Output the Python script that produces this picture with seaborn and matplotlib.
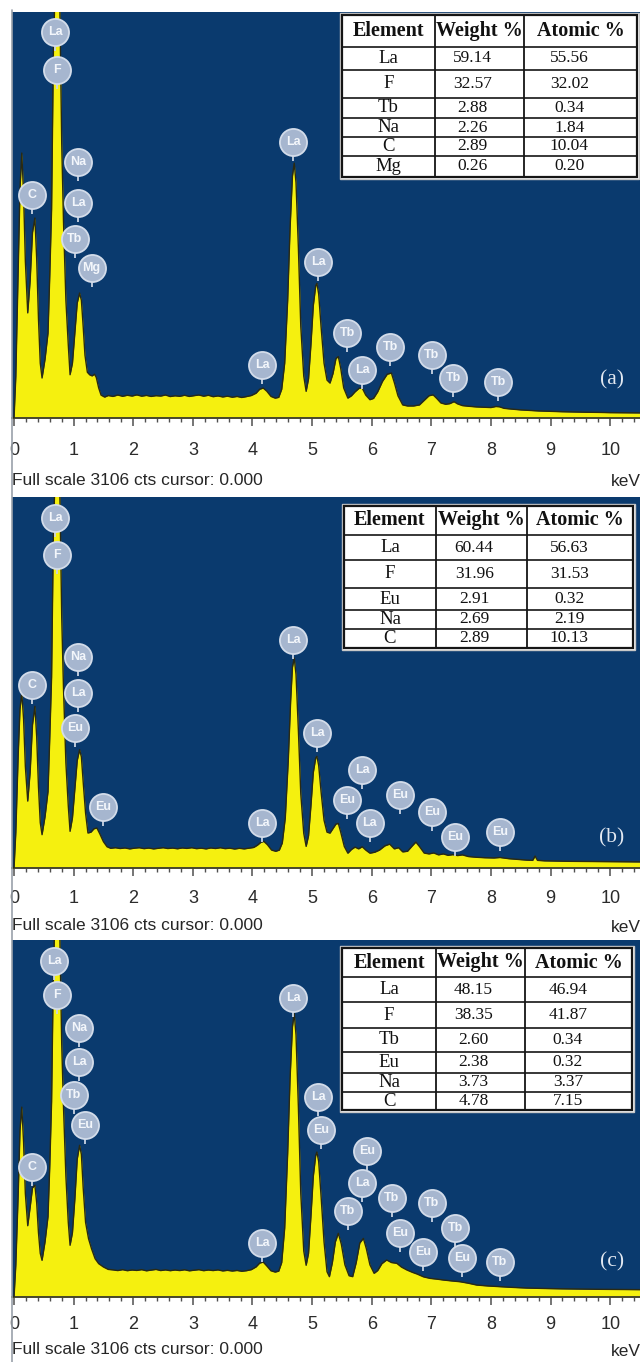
import matplotlib
matplotlib.use("Agg")
import numpy as np
import pandas as pd
import seaborn as sns
import matplotlib.pyplot as plt
from matplotlib.patches import Rectangle
from matplotlib.lines import Line2D
from matplotlib.ticker import MultipleLocator
from matplotlib.transforms import offset_copy

# ---------------------------------------------------------------- spectra (keV, counts)
energy_a = [0.00, 0.03, 0.07, 0.10, 0.13, 0.16, 0.19, 0.23, 0.27, 0.31, 0.35, 0.38, 0.41, 0.44, 0.47,
            0.52, 0.57, 0.60, 0.63, 0.66, 0.69, 0.72, 0.75, 0.77, 0.80, 0.83, 0.87, 0.91, 0.94,
            0.98, 1.02, 1.06, 1.10, 1.13, 1.16, 1.19, 1.23, 1.27, 1.31, 1.35, 1.38, 1.42, 1.46,
            1.52, 1.58, 1.66, 1.74, 1.82, 1.90, 1.98, 2.06, 2.14, 2.22, 2.30, 2.38, 2.46, 2.54,
            2.62, 2.70, 2.78, 2.86, 2.94, 3.02, 3.10, 3.18, 3.26, 3.34, 3.42, 3.50, 3.58, 3.66,
            3.74, 3.82, 3.90, 3.98, 4.06, 4.12, 4.18, 4.24, 4.31, 4.38, 4.44, 4.49, 4.54, 4.59,
            4.63, 4.67, 4.70, 4.73, 4.77, 4.81, 4.86, 4.90, 4.94, 4.98, 5.02, 5.06, 5.08, 5.11,
            5.15, 5.20, 5.25, 5.30, 5.35, 5.40, 5.44, 5.48, 5.53, 5.60, 5.66, 5.72, 5.79, 5.84,
            5.90, 5.97, 6.03, 6.10, 6.18, 6.26, 6.33, 6.38, 6.44, 6.52, 6.60, 6.70, 6.80, 6.88,
            6.96, 7.03, 7.09, 7.16, 7.24, 7.31, 7.38, 7.44, 7.52, 7.62, 7.75, 7.88, 8.00, 8.08,
            8.14, 8.22, 8.35, 8.50, 8.65, 8.80, 9.00, 9.20, 9.40, 9.60, 9.80, 10.00, 10.25, 10.50]
counts_a = [0, 320, 1150, 1750, 2027, 1720, 1200, 804, 1050, 1420, 1530, 1220, 760, 420, 306,
            450, 650, 1100, 1600, 2800, 3300, 3450, 3350, 3100, 2100, 1500, 900, 560, 331,
            420, 650, 880, 956, 900, 700, 480, 350, 330, 322, 335, 310, 230, 175,
            160, 172, 165, 176, 166, 174, 168, 177, 167, 173, 165, 171, 168, 176,
            164, 170, 166, 174, 165, 171, 176, 167, 174, 163, 169, 161, 167, 159,
            165, 157, 164, 172, 190, 220, 229, 205, 165, 152, 158, 220, 420, 900,
            1450, 1850, 1950, 1800, 1300, 700, 320, 204, 300, 560, 860, 1010, 1030, 950,
            700, 420, 290, 267, 340, 455, 470, 380, 230, 152, 170, 200, 228, 230,
            175, 140, 150, 200, 280, 335, 344, 270, 170, 100, 92, 92, 100, 135,
            170, 177, 150, 115, 105, 110, 125, 108, 95, 90, 85, 82, 80, 88,
            86, 74, 68, 62, 58, 54, 51, 48, 46, 44, 43, 41, 40, 39]

energy_b = [0.00, 0.03, 0.07, 0.10, 0.13, 0.16, 0.19, 0.23, 0.27, 0.31, 0.35, 0.38, 0.41, 0.44, 0.47,
            0.52, 0.57, 0.60, 0.63, 0.66, 0.69, 0.72, 0.75, 0.77, 0.80, 0.83, 0.87, 0.91, 0.94,
            0.98, 1.02, 1.06, 1.10, 1.13, 1.16, 1.20, 1.24, 1.29, 1.34, 1.39, 1.44, 1.50, 1.56,
            1.62, 1.70, 1.78, 1.86, 1.94, 2.02, 2.10, 2.18, 2.26, 2.34, 2.42, 2.50, 2.58, 2.66,
            2.74, 2.82, 2.90, 2.98, 3.06, 3.14, 3.22, 3.30, 3.38, 3.46, 3.54, 3.62, 3.70, 3.78,
            3.86, 3.94, 4.02, 4.08, 4.14, 4.19, 4.25, 4.32, 4.39, 4.45, 4.50, 4.55, 4.60, 4.64,
            4.67, 4.70, 4.73, 4.77, 4.81, 4.86, 4.90, 4.94, 4.98, 5.02, 5.06, 5.08, 5.11, 5.15,
            5.20, 5.25, 5.30, 5.35, 5.40, 5.44, 5.48, 5.54, 5.60, 5.66, 5.72, 5.78, 5.84, 5.90,
            5.97, 6.05, 6.13, 6.22, 6.30, 6.38, 6.45, 6.52, 6.60, 6.68, 6.74, 6.80, 6.88, 6.96,
            7.04, 7.12, 7.20, 7.28, 7.36, 7.44, 7.52, 7.62, 7.75, 7.90, 8.05, 8.15, 8.30, 8.45,
            8.60, 8.70, 8.74, 8.78, 8.90, 9.10, 9.30, 9.55, 9.80, 10.05, 10.30, 10.50]
counts_b = [0, 300, 950, 1330, 1465, 1250, 850, 560, 800, 1200, 1353, 1100, 680, 380, 279,
            430, 640, 1100, 1600, 2800, 3300, 3450, 3350, 3100, 2100, 1500, 880, 520, 307,
            420, 660, 900, 990, 930, 720, 460, 293, 300, 328, 335, 285, 220, 178,
            165, 170, 163, 168, 160, 166, 170, 162, 167, 160, 165, 170, 163, 167,
            161, 168, 164, 170, 162, 166, 160, 168, 163, 170, 162, 166, 159, 165,
            160, 166, 172, 190, 215, 223, 195, 150, 140, 150, 210, 420, 900, 1400,
            1680, 1758, 1620, 1150, 620, 290, 181, 270, 520, 800, 920, 935, 860, 640,
            400, 300, 292, 330, 368, 373, 300, 180, 124, 155, 175, 160, 178, 150,
            124, 132, 150, 185, 200, 160, 170, 135, 140, 185, 217, 180, 125, 118,
            126, 110, 118, 106, 112, 104, 110, 96, 90, 86, 84, 88, 78, 72,
            66, 64, 100, 64, 60, 58, 56, 55, 54, 53, 52, 51]

energy_c = [0.00, 0.03, 0.07, 0.10, 0.13, 0.16, 0.19, 0.23, 0.27, 0.31, 0.35, 0.38, 0.41, 0.44, 0.47,
            0.52, 0.57, 0.60, 0.63, 0.66, 0.69, 0.72, 0.75, 0.77, 0.80, 0.83, 0.87, 0.91, 0.94,
            0.98, 1.02, 1.06, 1.10, 1.13, 1.16, 1.20, 1.25, 1.30, 1.36, 1.42, 1.50, 1.58, 1.66,
            1.74, 1.82, 1.90, 1.98, 2.06, 2.14, 2.22, 2.30, 2.38, 2.46, 2.54, 2.62, 2.70, 2.78,
            2.86, 2.94, 3.02, 3.10, 3.18, 3.26, 3.34, 3.42, 3.50, 3.58, 3.66, 3.74, 3.82, 3.90,
            3.98, 4.06, 4.12, 4.18, 4.24, 4.31, 4.38, 4.44, 4.49, 4.54, 4.59, 4.63, 4.67, 4.70,
            4.73, 4.77, 4.81, 4.86, 4.90, 4.94, 4.98, 5.02, 5.06, 5.08, 5.11, 5.15, 5.20, 5.25,
            5.29, 5.34, 5.39, 5.44, 5.49, 5.55, 5.62, 5.68, 5.74, 5.80, 5.86, 5.91, 5.97, 6.04,
            6.10, 6.17, 6.25, 6.33, 6.42, 6.50, 6.59, 6.68, 6.76, 6.87, 6.98, 7.10, 7.20, 7.34,
            7.48, 7.62, 7.76, 7.95, 8.15, 8.35, 8.60, 8.90, 9.20, 9.50, 9.80, 10.10, 10.50]
counts_c = [0, 280, 900, 1450, 1652, 1350, 900, 620, 780, 950, 972, 820, 560, 380, 319,
            480, 700, 1150, 1700, 2850, 3350, 3450, 3350, 3100, 2200, 1650, 1050, 650, 450,
            560, 850, 1200, 1320, 1240, 950, 650, 507, 420, 333, 290, 261, 240, 236,
            230, 238, 229, 235, 231, 238, 228, 234, 240, 230, 236, 229, 235, 230,
            237, 228, 233, 238, 229, 235, 230, 236, 227, 232, 226, 231, 224, 229,
            238, 262, 295, 304, 270, 228, 217, 225, 300, 600, 1250, 1900, 2350, 2466,
            2280, 1650, 900, 400, 276, 380, 700, 1050, 1230, 1261, 1180, 880, 480, 220,
            177, 300, 480, 554, 460, 280, 185, 177, 300, 470, 510, 420, 280, 206,
            230, 290, 322, 300, 293, 260, 235, 215, 200, 175, 162, 155, 148, 140,
            133, 120, 104, 96, 90, 84, 78, 74, 71, 69, 67, 66, 64]

FULL_SCALE = 3106

# ---------------------------------------------------------------- peak identification tags
tag_names_a = ["La", "F", "C", "Na", "La", "Tb", "Mg", "La", "La", "La", "Tb", "La", "Tb", "Tb", "Tb", "Tb"]
tag_kev_a = [0.69, 0.72, 0.30, 1.08, 1.08, 1.02, 1.30, 4.16, 4.68, 5.10, 5.59, 5.84, 6.31, 7.01, 7.37, 8.12]
tag_names_b = ["La", "F", "C", "Na", "La", "Eu", "Eu", "La", "La", "La", "La", "Eu", "La", "Eu", "Eu", "Eu", "Eu"]
tag_kev_b = [0.69, 0.72, 0.30, 1.08, 1.08, 1.02, 1.50, 4.16, 4.68, 5.09, 5.84, 5.59, 5.97, 6.48, 7.01, 7.40, 8.15]
tag_names_c = ["La", "F", "Na", "La", "Tb", "Eu", "C", "La", "La", "La", "Eu", "Eu", "La", "Tb", "Tb",
               "Eu", "Eu", "Tb", "Tb", "Eu", "Tb"]
tag_kev_c = [0.67, 0.72, 1.09, 1.09, 1.00, 1.19, 0.30, 4.16, 4.68, 5.10, 5.15, 5.92, 5.84, 5.60, 6.34,
             6.48, 6.86, 7.01, 7.40, 7.52, 8.15]

# vertical placement of the tags (counts), kept apart from the data
tag_y_a = [2951, 2662, 1708, 1957, 1646, 1367, 1149, 404, 2112, 1196, 652, 367, 544, 481, 304, 276]
tag_y_b = [2929, 2621, 1531, 1767, 1466, 1171, 512, 373, 1910, 1131, 820, 568, 373, 612, 469, 261, 301]
tag_y_c = [2920, 2628, 2339, 2044, 1758, 1497, 1131, 466, 2600, 1739, 1454, 1273, 994, 745, 860,
           559, 391, 817, 599, 339, 304]

# ---------------------------------------------------------------- quantification tables
table_header = ["Element", "Weight %", "Atomic %"]
elements_a = ["La", "F", "Tb", "Na", "C", "Mg"]
weight_a = [59.14, 32.57, 2.88, 2.26, 2.89, 0.26]
atomic_a = [55.56, 32.02, 0.34, 1.84, 10.04, 0.20]
elements_b = ["La", "F", "Eu", "Na", "C"]
weight_b = [60.44, 31.96, 2.91, 2.69, 2.89]
atomic_b = [56.63, 31.53, 0.32, 2.19, 10.13]
elements_c = ["La", "F", "Tb", "Eu", "Na", "C"]
weight_c = [48.15, 38.35, 2.60, 2.38, 3.73, 4.78]
atomic_c = [46.94, 41.87, 0.34, 0.32, 3.37, 7.15]

panel_tags = ["(a)", "(b)", "(c)"]
x_ticks = list(range(0, 11))
footer_text = "Full scale 3106 cts cursor: 0.000"
unit_text = "keV"

# ---------------------------------------------------------------- styling
sns.set_theme(style="white")
plt.rcParams["font.family"] = ["Liberation Sans", "DejaVu Sans"]

W, H = 640, 1362
NAVY = "#0a3a6e"
YELLOW = "#f5f00f"
EDGE = "#2a2a12"
TAG_FACE = "#a6b6cf"
TAG_EDGE = "#d3dcea"
SERIF = ["Liberation Serif", "DejaVu Serif"]

fig = plt.figure(figsize=(W / 100, H / 100), dpi=100)
fig.patch.set_facecolor("white")


def fx(x):
    return x / W


def fy(y):
    return 1 - y / H


def line_px(x0, y0, x1, y1, color, lw, z):
    fig.add_artist(Line2D([fx(x0), fx(x1)], [fy(y0), fy(y1)], transform=fig.transFigure,
                          color=color, lw=lw, zorder=z))


def draw_table(left, right, cols, rows, elements, weights, atomics):
    top, bottom = rows[0], rows[-1]
    fig.add_artist(Rectangle((fx(left - 2), fy(bottom + 2)), (right - left + 4) / W, (bottom - top + 4) / H,
                             transform=fig.transFigure, facecolor="white", edgecolor="#c8c8c8",
                             lw=1.0, zorder=10))
    fig.add_artist(Rectangle((fx(left), fy(bottom)), (right - left) / W, (bottom - top) / H,
                             transform=fig.transFigure, facecolor="white", edgecolor="#151515",
                             lw=1.6, zorder=11))
    for c in cols:
        line_px(c, top, c, bottom, "#151515", 1.3, 12)
    for r in rows[1:-1]:
        line_px(left, r, right, r, "#151515", 1.2, 12)
    centers = [(left + cols[0]) / 2, cols[0] + 0.42 * (cols[1] - cols[0]), cols[1] + 0.40 * (right - cols[1])]
    head_centers = [(left + cols[0]) / 2, (cols[0] + cols[1]) / 2, (cols[1] + right) / 2]
    yc = (rows[0] + rows[1]) / 2
    for xc, txt in zip(head_centers, table_header):
        fig.text(fx(xc), fy(yc), txt, ha="center", va="center", family=SERIF, fontweight="bold",
                 fontsize=14.5, color="#111111", zorder=13)
    for i, (el, w, a) in enumerate(zip(elements, weights, atomics)):
        yc = (rows[i + 1] + rows[i + 2]) / 2
        fig.text(fx(centers[0]), fy(yc), el, ha="center", va="center", family=SERIF,
                 fontsize=13.5, color="#111111", zorder=13)
        fig.text(fx(centers[1]), fy(yc), f"{w:.2f}", ha="center", va="center", family=SERIF,
                 fontsize=12.5, color="#111111", zorder=13)
        fig.text(fx(centers[2]), fy(yc), f"{a:.2f}", ha="center", va="center", family=SERIF,
                 fontsize=12.5, color="#111111", zorder=13)


panels = [
    dict(energy=energy_a, counts=counts_a, names=tag_names_a, kev=tag_kev_a, ty=tag_y_a,
         box=(12, 12, 640, 418), pad=11.5, foot_y=480, tag_xy=(612, 380),
         table=(342, 637, [435, 524], [15, 47, 70, 98, 118, 137, 156, 177],
                elements_a, weight_a, atomic_a)),
    dict(energy=energy_b, counts=counts_b, names=tag_names_b, kev=tag_kev_b, ty=tag_y_b,
         box=(12, 497, 640, 868), pad=9.5, foot_y=926, tag_xy=(612, 838),
         table=(344, 633, [436, 527], [506, 535, 560, 588, 610, 629, 648],
                elements_b, weight_b, atomic_b)),
    dict(energy=energy_c, counts=counts_c, names=tag_names_c, kev=tag_kev_c, ty=tag_y_c,
         box=(12, 940, 640, 1297), pad=8.0, foot_y=1350, tag_xy=(612, 1262),
         table=(342, 632, [436, 525], [948, 977, 1002, 1028, 1052, 1073, 1092, 1110],
                elements_c, weight_c, atomic_c)),
]

for p, letter in zip(panels, panel_tags):
    l, t, r, b = p["box"]
    ax = fig.add_axes([fx(l), fy(b), (r - l) / W, (b - t) / H])
    ax.set_facecolor(NAVY)

    df = pd.DataFrame({"keV": p["energy"], "counts": p["counts"]})
    ax.fill_between(df["keV"], df["counts"], color=YELLOW, linewidth=0, zorder=2)
    sns.lineplot(data=df, x="keV", y="counts", ax=ax, color=EDGE, linewidth=1.0,
                 estimator=None, sort=False, zorder=3)

    ax.set_xlim(-0.034, 10.50)
    ax.set_ylim(0, FULL_SCALE)
    ax.set_xlabel("")
    ax.set_ylabel("")
    ax.set_yticks([])
    ax.set_xticks(x_ticks)
    ax.set_xticklabels([str(v) for v in x_ticks])
    ax.xaxis.set_minor_locator(MultipleLocator(0.2))
    ax.tick_params(axis="x", which="major", bottom=True, direction="out", length=6, width=1.1,
                   color="#505050", labelsize=13, labelcolor="#2b2b2b", pad=p["pad"])
    ax.tick_params(axis="x", which="minor", bottom=True, direction="out", length=3.2, width=1.0,
                   color="#505050")
    for s in ("top", "right", "left"):
        ax.spines[s].set_visible(False)
    ax.spines["bottom"].set_color("#3a3a2a")
    ax.spines["bottom"].set_linewidth(1.3)

    # element tags: short stem, disc, symbol
    stem_tr = offset_copy(ax.transData, fig=fig, x=0, y=-16, units="dots")
    ax.plot(p["kev"], p["ty"], transform=stem_tr, ls="none", marker="|", ms=5, mew=1.3,
            color="#c9d3e3", zorder=4, clip_on=False)
    ax.scatter(p["kev"], p["ty"], s=380, c=TAG_FACE, edgecolors=TAG_EDGE, linewidths=1.3,
               zorder=5, clip_on=False)
    for name, k, yv in zip(p["names"], p["kev"], p["ty"]):
        ax.text(k, yv, name, ha="center", va="center", fontsize=9, fontweight="bold",
                color="#f3f6fb", zorder=6)

    fig.text(fx(12), fy(p["foot_y"]), footer_text, ha="left", va="center", fontsize=12.5,
             color="#262626")
    fig.text(fx(611), fy(p["foot_y"] + 2), unit_text, ha="left", va="center", fontsize=12.5,
             color="#262626")
    fig.text(fx(p["tag_xy"][0]), fy(p["tag_xy"][1]), letter, ha="center", va="center",
             family=SERIF, fontsize=15.5, color="#e2e8f1")

    draw_table(*p["table"])

# thin frame line down the left edge
line_px(11.5, 10, 11.5, 1362, "#9aa1aa", 1.2, 20)

fig.savefig("out.png", dpi=100, facecolor="white")
